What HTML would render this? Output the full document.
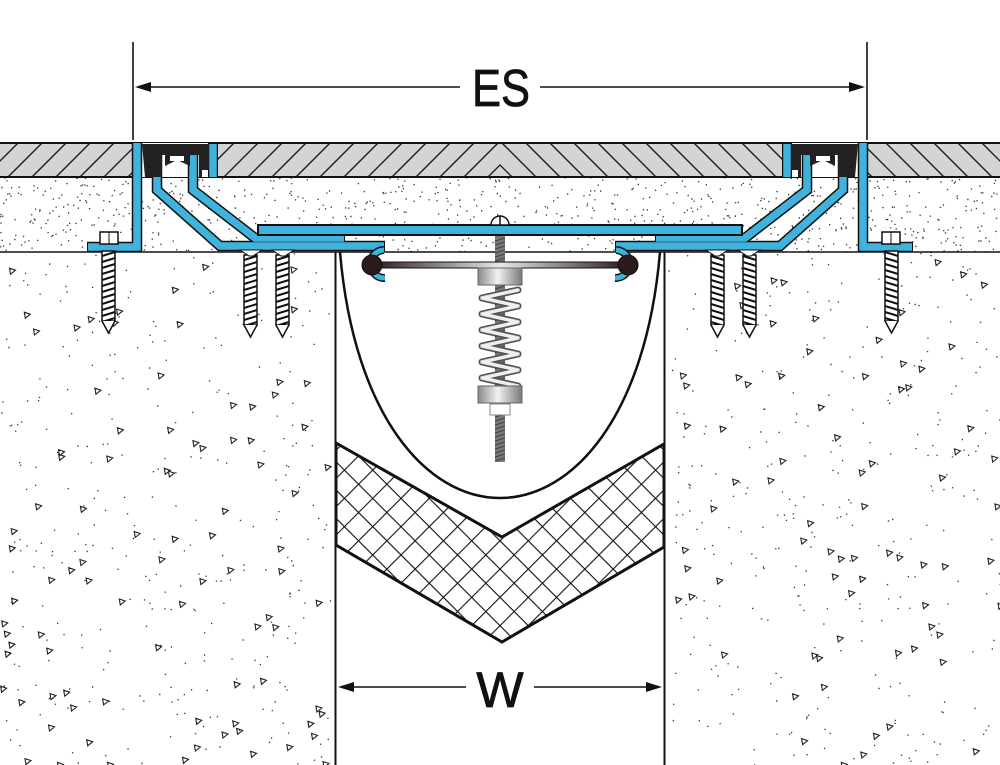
<!DOCTYPE html>
<html><head><meta charset="utf-8"><style>html,body{margin:0;padding:0;background:#fff}svg{display:block}</style></head>
<body>
<svg id="s" width="1000" height="765" viewBox="0 0 1000 765" xmlns="http://www.w3.org/2000/svg" font-family="Liberation Sans, sans-serif">
<defs>
<pattern id="mesh" width="20" height="20" patternUnits="userSpaceOnUse" patternTransform="rotate(45 500 540)">
<path d="M0 0H20M0 0V20" stroke="#111" stroke-width="2.2" fill="none"/>
</pattern>
<linearGradient id="met" x1="0" x2="1"><stop offset="0" stop-color="#8a8a8a"/><stop offset="0.45" stop-color="#f2f2f2"/><stop offset="1" stop-color="#7a7a7a"/></linearGradient>
<linearGradient id="bar" x1="0" x2="1"><stop offset="0" stop-color="#2a1a1a"/><stop offset="0.5" stop-color="#e8e8e8"/><stop offset="1" stop-color="#2a1a1a"/></linearGradient>
<clipPath id="hL"><rect x="0" y="143" width="500" height="34"/></clipPath>
<clipPath id="hR"><rect x="500" y="143" width="500" height="34"/></clipPath>
<g id="prof">
  <rect x="140" y="143" width="75" height="34" fill="#fff"/>
  <path d="M137 143V247H87 M157 152V190L220 246H385 M193 152V190L255 238H345" fill="none" stroke="#111" stroke-width="10.5" stroke-linejoin="miter"/>
  <path d="M213 143V178" stroke="#111" stroke-width="10"/>
  <path d="M137 143V247H88 M157 152V190L220 246H384 M193 152V190L255 238H344" fill="none" stroke="#3fb3dc" stroke-width="7.5"/>
  <path d="M213 144V177" stroke="#3fb3dc" stroke-width="7.5"/>
  <path d="M142 144H209V170H202V177H199V155H190V166L177 160L165 166V155H162V177H145Z" fill="#222"/>
  <rect x="170" y="156" width="14" height="5" fill="#fff"/>
  <path d="M384 250A13 13 0 1 0 385 278" fill="none" stroke="#111" stroke-width="8"/>
  <path d="M384 250A13 13 0 1 0 385 278" fill="none" stroke="#3fb3dc" stroke-width="5"/>
  <rect x="100" y="232" width="18" height="12" fill="#fff" stroke="#111" stroke-width="1.5"/>
  <line x1="109" y1="232" x2="109" y2="244" stroke="#111"/>
  <g id="sh"><rect x="102" y="251" width="13" height="70" fill="#fff" stroke="#111" stroke-width="1.5"/>
  <path d="M102 256l13 -4M102 262l13-4M102 268l13-4M102 274l13-4M102 280l13-4M102 286l13-4M102 292l13-4M102 298l13-4M102 304l13-4M102 310l13-4M102 316l13-4M102 322l13-4" stroke="#111" stroke-width="2"/>
  <path d="M102 321L108.5 333L115 321" fill="#fff" stroke="#111" stroke-width="1.5"/></g>
  <use href="#sh" x="142" y="4"/>
  <use href="#sh" x="174" y="4"/>
  <path d="M240 250H262L253 256H249Z M272 250H294L285 256H281Z" fill="#fff" stroke="#111" stroke-width="1"/>
</g>
</defs>
<g id="speck"></g>
<rect x="0" y="143" width="1000" height="34" fill="#d4d4d4"/>
<g clip-path="url(#hL)" stroke="#111" stroke-width="1.3" id="hl"></g>
<g clip-path="url(#hR)" stroke="#111" stroke-width="1.3" id="hr"></g>
<line x1="0" y1="143" x2="1000" y2="143" stroke="#111" stroke-width="2"/>
<line x1="0" y1="177" x2="1000" y2="177" stroke="#111" stroke-width="2"/>
<line x1="0" y1="252" x2="1000" y2="252" stroke="#111" stroke-width="1.5"/>
<rect x="336" y="253" width="328" height="512" fill="#fff"/>
<line x1="335.5" y1="252" x2="335.5" y2="765" stroke="#111" stroke-width="2"/>
<line x1="664.5" y1="252" x2="664.5" y2="765" stroke="#111" stroke-width="2"/>
<path d="M336 443L502 537L664 444V547L502 642L336 545Z" fill="url(#mesh)" stroke="#111" stroke-width="3"/>
<path d="M340 252C368 580 632 580 660 252" fill="none" stroke="#111" stroke-width="2.5"/>
<use href="#prof"/>
<use href="#prof" transform="translate(1000 0) scale(-1 1)"/>
<rect x="258" y="225" width="484" height="10" fill="#3fb3dc" stroke="#111" stroke-width="2"/>
<path d="M491 225A9 9 0 0 1 509 225Z" fill="#fff" stroke="#111" stroke-width="1.5"/>
<line x1="500" y1="216" x2="500" y2="225" stroke="#111" stroke-width="1.5"/>
<rect x="495" y="236" width="10" height="226" fill="#777"/>
<path id="thr" d="" stroke="#444" stroke-width="1"/>
<rect x="372" y="262" width="256" height="6" fill="url(#bar)" stroke="#111" stroke-width="1"/>
<circle cx="372" cy="265" r="10" fill="#2a1a1a" stroke="#111"/>
<circle cx="628" cy="265" r="10" fill="#2a1a1a" stroke="#111"/>
<g fill="none" stroke="#555" stroke-width="7" stroke-linecap="round" id="coil"></g>
<g fill="none" stroke="#eee" stroke-width="3.5" stroke-linecap="round" id="coil2"></g>
<rect x="478" y="268" width="44" height="17" fill="url(#met)" stroke="#666"/>
<rect x="478" y="386" width="44" height="17" fill="url(#met)" stroke="#666"/>
<rect x="490" y="404" width="20" height="11" fill="#fff" stroke="#888"/>
<g stroke="#111" stroke-width="1.6">
<line x1="133" y1="42" x2="133" y2="140"/>
<line x1="867" y1="42" x2="867" y2="140"/>
<line x1="140" y1="87" x2="460" y2="87"/>
<line x1="540" y1="87" x2="860" y2="87"/>
<line x1="345" y1="687" x2="466" y2="687"/>
<line x1="534" y1="687" x2="655" y2="687"/>
</g>
<path d="M135 87l16 -5v10z M865 87l-16 -5v10z M338 687l16 -5v10z M662 687l-16 -5v10z" fill="#111"/>
<text x="501" y="106" font-size="52" text-anchor="middle" textLength="58" lengthAdjust="spacingAndGlyphs" fill="#111" stroke="#111" stroke-width="0.8">ES</text>
<text x="500" y="707" font-size="50" text-anchor="middle" fill="#111" stroke="#111" stroke-width="0.8">W</text>
<script>
(function(){
var ns="http://www.w3.org/2000/svg";
function el(t,a,p){var e=document.createElementNS(ns,t);for(var k in a)e.setAttribute(k,a[k]);p.appendChild(e);return e;}
var hl=document.getElementById('hl'),hr=document.getElementById('hr');
for(var x=-40;x<540;x+=24){el('line',{x1:x,y1:177,x2:x+34,y2:143},hl);el('line',{x1:1000-x,y1:177,x2:1000-x-34,y2:143},hr);}
var seed=7;function r(){seed=(seed*16807)%2147483647;return seed/2147483647;}
var g=document.getElementById('speck');var d='';var t='';
for(var i=0;i<900;i++){var x=r()*1000,y=177+r()*75;d+='M'+x.toFixed(1)+' '+y.toFixed(1)+'h1.3v1.3h-1.3z';}
for(var i=0;i<1000;i++){var x=r()*1000,y=253+r()*512;if(x>333&&x<667)continue;d+='M'+x.toFixed(1)+' '+y.toFixed(1)+'h1.3v1.3h-1.3z';}
for(var i=0;i<260;i++){var x=r()*1000,y=258+r()*505;if(x>328&&x<672)continue;t+='M'+x.toFixed(1)+' '+y.toFixed(1)+'l6 2l-5 4z';}
el('path',{d:d,fill:'#333'},g);el('path',{d:t,fill:'none',stroke:'#222','stroke-width':'1.1'},g);
var th='';for(var y=238;y<460;y+=4)th+='M495 '+(y+3)+'L505 '+y;document.getElementById('thr').setAttribute('d',th);
var c=document.getElementById('coil'),c2=document.getElementById('coil2'),cd='';
for(var y=290;y<380;y+=16){cd+='M482 '+(y+8)+'L518 '+y+' M482 '+(y+8)+'L518 '+(y+16)+' ';}
el('path',{d:cd},c);el('path',{d:cd},c2);
})();
</script>
</svg>
</body></html>
